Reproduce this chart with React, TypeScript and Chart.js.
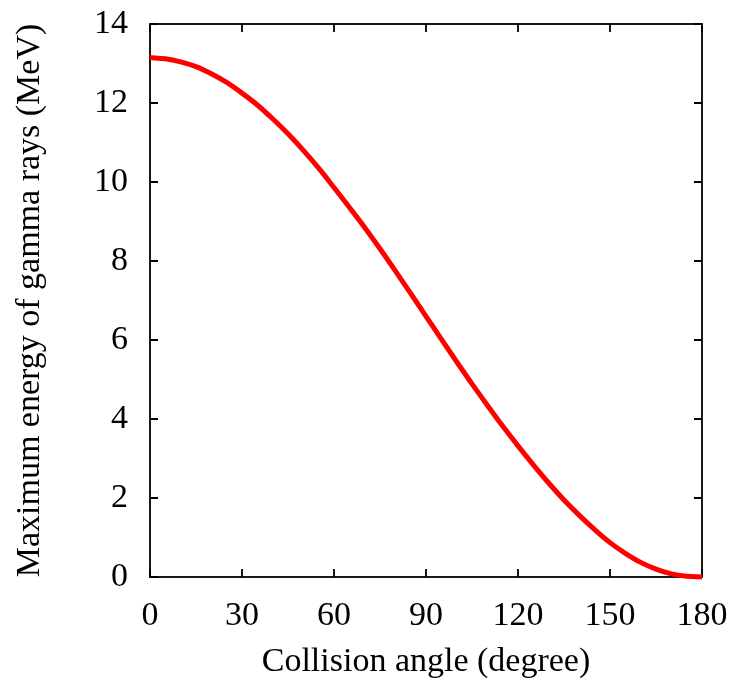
import React, { useEffect, useRef } from "react";
import { Chart, registerables } from "chart.js";

Chart.register(...registerables);

const angles = [
  0, 5, 10, 15, 20, 25, 30, 35, 40, 45, 50, 55, 60, 65, 70, 75, 80, 85, 90,
  95, 100, 105, 110, 115, 120, 125, 130, 135, 140, 145, 150, 155, 160, 165, 170, 175, 180,
];
const energies = [
  13.15, 13.12, 13.04, 12.92, 12.74, 12.52, 12.25, 11.95, 11.6, 11.22, 10.8, 10.35, 9.86, 9.36, 8.85, 8.31, 7.75, 7.18, 6.6,
  6.02, 5.45, 4.89, 4.35, 3.82, 3.32, 2.84, 2.38, 1.95, 1.56, 1.2, 0.87, 0.6, 0.37, 0.2, 0.08, 0.02, 0.0,
];
const xTicks = [0, 30, 60, 90, 120, 150, 180];
const yTicks = [0, 2, 4, 6, 8, 10, 12, 14];
const xTitle = "Collision angle (degree)";
const yTitle = "Maximum energy of gamma rays (MeV)";

const FONT = "'Liberation Serif', 'Times New Roman', serif";
const FS = 34;

const framePlugin = {
  id: "frame",
  beforeDatasetsDraw(chart: any) {
    const { ctx, chartArea, scales } = chart;
    const { left, right, top, bottom } = chartArea;
    const tl = 8;
    ctx.save();
    ctx.strokeStyle = "#000";
    ctx.lineWidth = 1.8;
    ctx.beginPath();
    for (const v of xTicks) {
      const px = scales.x.getPixelForValue(v);
      ctx.moveTo(px, bottom);
      ctx.lineTo(px, bottom - tl);
      ctx.moveTo(px, top);
      ctx.lineTo(px, top + tl);
    }
    for (const v of yTicks) {
      const py = scales.y.getPixelForValue(v);
      ctx.moveTo(left, py);
      ctx.lineTo(left + tl, py);
      ctx.moveTo(right, py);
      ctx.lineTo(right - tl, py);
    }
    ctx.stroke();
    ctx.strokeRect(left, top, right - left, bottom - top);
    ctx.restore();
  },
};

export default function App() {
  const ref = useRef<HTMLCanvasElement | null>(null);
  useEffect(() => {
    if (!ref.current) return;
    const chart = new Chart(ref.current, {
      type: "line",
      data: {
        datasets: [
          {
            data: angles.map((a, i) => ({ x: a, y: energies[i] })),
            borderColor: "#ff0000",
            borderWidth: 5,
            pointRadius: 0,
            cubicInterpolationMode: "monotone",
            fill: false,
            clip: 4,
          },
        ],
      },
      options: {
        responsive: false,
        animation: false,
        layout: { padding: { top: 24, right: 34, left: 0, bottom: 0 } },
        plugins: { legend: { display: false }, tooltip: { enabled: false } },
        scales: {
          x: {
            type: "linear",
            min: 0,
            max: 180,
            afterBuildTicks: (s: any) => {
              s.ticks = xTicks.map((v) => ({ value: v }));
            },
            afterFit: (s: any) => {
              s.height = 107;
              s.paddingLeft = 0;
              s.paddingRight = 0;
            },
            grid: { display: false, drawTicks: false },
            border: { display: false },
            ticks: {
              color: "#000",
              padding: 19,
              maxRotation: 0,
              autoSkip: false,
              font: { family: FONT, size: FS },
            },
            title: {
              display: true,
              text: xTitle,
              color: "#000",
              font: { family: FONT, size: FS },
              padding: { top: 0, bottom: 2 },
            },
          },
          y: {
            type: "linear",
            min: 0,
            max: 14,
            afterBuildTicks: (s: any) => {
              s.ticks = yTicks.map((v) => ({ value: v }));
            },
            afterFit: (s: any) => {
              s.width = 150;
              s.paddingTop = 0;
              s.paddingBottom = 0;
            },
            grid: { display: false, drawTicks: false },
            border: { display: false },
            ticks: {
              color: "#000",
              padding: 22,
              autoSkip: false,
              font: { family: FONT, size: FS },
            },
            title: {
              display: true,
              text: yTitle,
              color: "#000",
              font: { family: FONT, size: FS },
              padding: { top: 10, bottom: 0 },
            },
          },
        },
      },
      plugins: [framePlugin],
    } as any);
    return () => chart.destroy();
  }, []);
  return (
    <div style={{ position: "absolute", left: 0, top: 0, width: 736, height: 684, background: "#fff" }}>
      <canvas ref={ref} width={736} height={684} style={{ width: 736, height: 684 }} />
    </div>
  );
}
